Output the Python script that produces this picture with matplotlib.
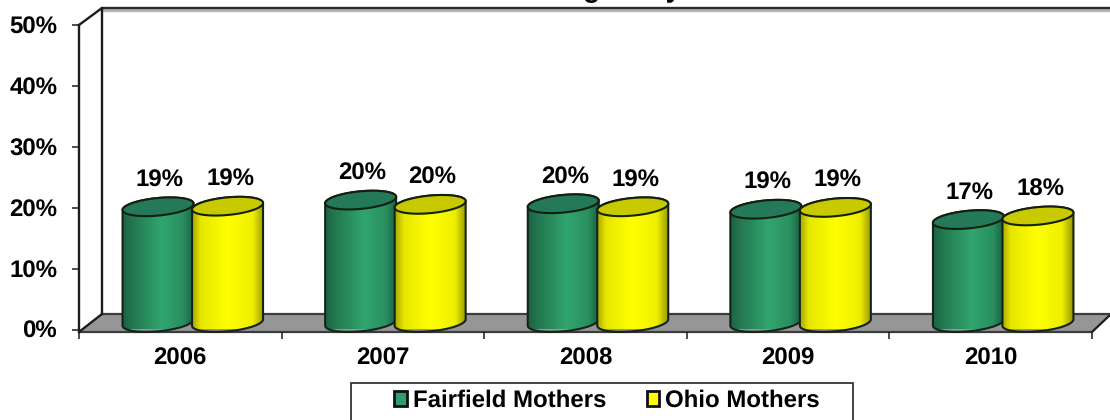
import numpy as np
import matplotlib
matplotlib.use("Agg")
import matplotlib.pyplot as plt
from matplotlib.colors import LinearSegmentedColormap
from matplotlib.patches import Patch, Polygon, Rectangle
from matplotlib.transforms import Affine2D

plt.rcParams['font.family'] = ['Liberation Sans', 'DejaVu Sans']
plt.rcParams['font.weight'] = 'bold'
plt.rcParams['text.hinting'] = 'no_hinting'
plt.rcParams['text.hinting_factor'] = 1

years = ['2006', '2007', '2008', '2009', '2010']
fairfield = [19.0, 20.1, 19.5, 18.6, 16.9]
ohio = [19.1, 19.4, 19.0, 18.9, 17.5]
fairfield_labels = ['19%', '20%', '20%', '19%', '17%']
ohio_labels = ['19%', '20%', '19%', '19%', '18%']
y_ticks = [0, 10, 20, 30, 40, 50]
series_names = ['Fairfield Mothers', 'Ohio Mothers']
title_text = 'Pregnancy'

W, H = 1110, 420
fig = plt.figure(figsize=(W / 100, H / 100), dpi=100, facecolor='white')
AX_L, AX_R, Y0, Y50 = 79, 1092, 329.5, 25
ax = fig.add_axes([AX_L / W, (H - Y0) / H, (AX_R - AX_L) / W, (Y0 - Y50) / H])
ax.patch.set_alpha(0)
ux = (AX_R - AX_L) / 5
uy = (Y0 - Y50) / 50
T = Affine2D().scale(1, -1).translate(0, H)  # top-origin pixels

DARK = '#1c1c1c'
# back wall and floor
floor = Polygon([(79, 332), (102, 314), (1111, 314), (1092, 332)], closed=True,
                facecolor='#969696', edgecolor='#3c3c3c', lw=1.6, transform=T,
                clip_on=False, zorder=1)
ax.add_patch(floor)
ax.plot([102, 1111], [9.5, 9.5], color='#b4b4b4', lw=2.4, transform=T, clip_on=False, zorder=1)
ax.plot([102, 1111], [8, 8], color='#2a2a2a', lw=1.7, transform=T, clip_on=False, zorder=2)
ax.plot([79, 102, 102], [25, 8, 314], color=DARK, lw=1.7, transform=T, clip_on=False, zorder=2)
ax.plot([79, 79], [25, 332], color=DARK, lw=1.7, transform=T, clip_on=False, zorder=2)
ax.plot([79, 102], [332, 314], color=DARK, lw=1.4, transform=T, clip_on=False, zorder=2)
ax.plot([1092, 1110], [332, 315], color=DARK, lw=1.2, transform=T, clip_on=False, zorder=2)

green_cm = LinearSegmentedColormap.from_list('g', [(0, '#1c6243'), (0.14, '#23784f'), (0.55, '#31a56f'),
                                                  (0.85, '#2a8f60'), (1, '#1b6042')])
yellow_cm = LinearSegmentedColormap.from_list('y', [(0, '#a8a800'), (0.12, '#e6e600'), (0.5, '#ffff00'),
                                                   (0.85, '#eeee00'), (1, '#9c9c00')])
grad = np.linspace(0, 1, 128).reshape(1, -1)

A = 35.5 / ux      # half width, categories
B = 8.8 / uy       # half height of ellipses, value units
SLOPE = 0.09       # tilt of ellipse (px per px)
DEPTH = 7.0 / uy   # floor depth shift of cylinder bottoms
OFFS = 12.5 / ux   # shift of the pair from the category centre
SEP = 34.75 / ux   # each cylinder from pair centre
LABEL_UP = 26.5    # pixels from the cylinder's top centre to its label


def ell(cx, cy, t):
    return cx + A * np.cos(t), cy + B * np.sin(t) + SLOPE * A * ux * np.cos(t) / uy


def cylinder(cx, value, cmap, top_col, z):
    topy = value + DEPTH
    t_low = np.linspace(np.pi, 2 * np.pi, 60)
    t_up = np.linspace(0, np.pi, 60)
    bx, by = ell(cx, DEPTH, t_low)
    tx, ty = ell(cx, topy, t_up)
    verts = np.column_stack([np.r_[bx, tx], np.r_[by, ty]])
    ax.add_patch(Polygon(verts, closed=True, facecolor='none', edgecolor='#14241a', lw=1.5,
                         zorder=z + 0.2, clip_on=False))
    im = ax.imshow(grad, cmap=cmap, extent=[cx - A, cx + A, -3, topy + B + 2], aspect='auto',
                   zorder=z, interpolation='bilinear')
    im.set_clip_path(Polygon(verts, closed=True, transform=ax.transData))
    t = np.linspace(0, 2 * np.pi, 120)
    ex, ey = ell(cx, topy, t)
    ax.add_patch(Polygon(np.column_stack([ex, ey]), closed=True, facecolor=top_col,
                         edgecolor='#14200f', lw=1.5, zorder=z + 0.3))


for i in range(len(years)):
    c = i + 0.5 + OFFS
    z = 3 + i * 2
    cylinder(c - SEP, fairfield[i], green_cm, '#23795a', z)
    cylinder(c + SEP, ohio[i], yellow_cm, '#c9c900', z + 1)
    ax.annotate(fairfield_labels[i], (c - SEP, fairfield[i] + DEPTH), xytext=(1.5, LABEL_UP),
                textcoords='offset pixels', ha='center', va='center', fontsize=17, zorder=30,
                annotation_clip=False)
    ax.annotate(ohio_labels[i], (c + SEP, ohio[i] + DEPTH), xytext=(2.5, LABEL_UP),
                textcoords='offset pixels', ha='center', va='center', fontsize=17, zorder=30,
                annotation_clip=False)

ax.set_xlim(0, 5)
ax.set_ylim(0, 50)
for s in ax.spines.values():
    s.set_visible(False)
ax.set_yticks(y_ticks)
ax.set_yticklabels([f'{v}%' for v in y_ticks], fontsize=17, fontweight='bold')
ax.tick_params(axis='y', length=5.2, width=1.1, pad=10.5, color=DARK)
ax.set_xticks(range(len(years) + 1))
ax.set_xticklabels([''] * (len(years) + 1))
ax.tick_params(axis='x', which='major', length=5.0, width=1.1, pad=0, color=DARK)
ax.spines['bottom'].set_position(('outward', 1.8))
ax.set_xticks(np.arange(len(years)) + 0.5, minor=True)
ax.set_xticklabels(years, minor=True, fontsize=17, fontweight='bold')
ax.tick_params(axis='x', which='minor', length=0, pad=11)

# clipped title: only descenders fall inside the picture
fig.text(681, 0, title_text, fontsize=20, fontweight='bold', ha='right', va='baseline',
         transform=Affine2D().scale(1, -1).translate(0, H + 3))

# legend
fig.add_artist(Rectangle((351, 383), 502, 40, facecolor='white', edgecolor='#222222', lw=1.2,
                         transform=T, clip_on=False))
handles = [Patch(facecolor='#2f9e6d', edgecolor='#111111', lw=2),
           Patch(facecolor='#ffff00', edgecolor='#111111', lw=2)]
fig.legend(handles, series_names, loc='center', bbox_to_anchor=(607 / W, (H - 401) / H), ncol=2,
           frameon=False, fontsize=17.3, handlelength=0.52, handleheight=0.55, handletextpad=0.25,
           columnspacing=1.7, borderpad=0, borderaxespad=0)

fig.savefig('out.png', dpi=100, facecolor='white')
